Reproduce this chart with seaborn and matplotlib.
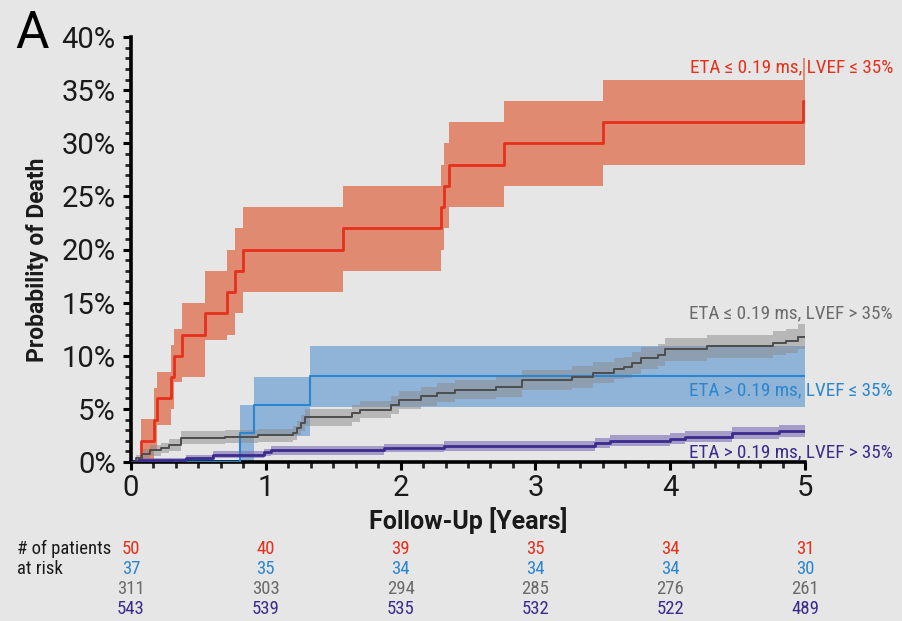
import numpy as np
import pandas as pd
import matplotlib
matplotlib.use("Agg")
import matplotlib.pyplot as plt
import matplotlib.transforms as mtransforms
from matplotlib import font_manager
from matplotlib.ticker import MultipleLocator, FuncFormatter
import seaborn as sns

# ---------------- data ----------------
red_t = [0, 0.074, 0.17, 0.19, 0.30, 0.32, 0.376, 0.55, 0.71, 0.77, 0.83, 1.57, 2.30, 2.32, 2.36, 2.77, 3.50, 4.985, 5.0]
red_v = [0, 2, 4, 6, 8, 10, 12, 14, 16, 18, 20, 22, 24, 26, 28, 30, 32, 34, 34]
red_lo = [0, 0, 1, 3.5, 5, 7.5, 8, 11.5, 12, 14, 16, 18, 20, 22, 24, 26, 28, 28, 28]
red_hi = [0, 4, 7, 8.5, 11, 12.5, 15, 18, 20, 22, 24, 26, 28, 30, 32, 34, 36, 38, 38]

blue_t = [0, 0.81, 0.91, 1.33, 5.0]
blue_v = [0, 2.7, 5.4, 8.1, 8.1]
blue_lo = [0, 0, 2.4, 5.2, 5.2]
blue_hi = [0, 5.4, 8.0, 10.9, 10.9]

gray_t = [0, 0.04, 0.08, 0.14, 0.22, 0.28, 0.37, 0.70, 0.94, 1.20, 1.23, 1.26, 1.29, 1.64, 1.70,
          1.93, 1.99, 2.15, 2.27, 2.40, 2.71, 2.90, 3.27, 3.43, 3.58, 3.66, 3.72, 3.78, 3.91, 3.96,
          4.27, 4.76, 4.86, 4.95, 5.0]
gray_v = [0, 0.4, 0.8, 1.1, 1.3, 1.6, 2.3, 2.4, 2.5, 2.7, 3.2, 3.7, 4.2, 4.6, 4.9,
          5.4, 5.8, 6.2, 6.5, 6.8, 7.1, 7.7, 8.0, 8.4, 8.8, 8.9, 9.3, 9.8, 10.1, 10.6,
          10.9, 11.2, 11.4, 11.8, 11.8]
gray_err = [0, 0.3, 0.45, 0.5, 0.5, 0.55, 0.6, 0.6, 0.6, 0.65, 0.7, 0.75, 0.8, 0.8, 0.8,
            0.85, 0.85, 0.9, 0.9, 0.9, 0.95, 0.95, 1.0, 1.0, 1.0, 1.0, 1.05, 1.05, 1.05, 1.1,
            1.1, 1.1, 1.1, 1.15, 1.15]

purple_t = [0, 0.05, 0.41, 0.61, 0.99, 1.04, 1.88, 2.32, 3.44, 3.55, 4.00, 4.11, 4.46, 4.81, 5.0]
purple_v = [0, 0.2, 0.4, 0.7, 0.9, 1.1, 1.3, 1.5, 1.8, 2.0, 2.2, 2.4, 2.7, 2.9, 2.9]
purple_err = [0, 0.15, 0.25, 0.3, 0.35, 0.4, 0.4, 0.45, 0.45, 0.5, 0.5, 0.5, 0.55, 0.55, 0.55]

group_labels = ["ETA \u2264 0.19 ms, LVEF \u2264 35%",
                "ETA \u2264 0.19 ms, LVEF > 35%",
                "ETA > 0.19 ms, LVEF \u2264 35%",
                "ETA > 0.19 ms, LVEF > 35%"]

risk_times = [0, 1, 2, 3, 4, 5]
risk_red = [50, 40, 39, 35, 34, 31]
risk_blue = [37, 35, 34, 34, 34, 30]
risk_gray = [311, 303, 294, 285, 276, 261]
risk_purple = [543, 539, 535, 532, 522, 489]

y_ticks = [0, 5, 10, 15, 20, 25, 30, 35, 40]
x_ticks = [0, 1, 2, 3, 4, 5]

# ---------------- style ----------------
sns.set_theme(style="white")
names = {f.name for f in font_manager.fontManager.ttflist}
narrow = next((n for n in ["Roboto Condensed", "Liberation Sans Narrow", "Open Sans Condensed",
                           "DejaVu Sans Condensed"] if n in names), None)
COND = ([narrow] if narrow else []) + ["Roboto", "DejaVu Sans"]
REG = ["Roboto", "DejaVu Sans"]
plt.rcParams['font.family'] = REG

BG = "#e6e6e6"
RED, RED_BAND = "#e5311c", "#e08b71"
BLUE, BLUE_BAND = "#2b86cf", "#8fb4d7"
GRAY, GRAY_BAND = "#4d4d4d", "#8a8a8a"
GRAY_TXT = "#6b6b6b"
PURPLE, PURPLE_BAND = "#3a2b8c", "#7a6bb5"

fig = plt.figure(figsize=(9.02, 6.21), dpi=100, facecolor=BG)
ax = fig.add_axes([131/902, 1-462/621, (805-131)/902, (462-37)/621])
ax.set_facecolor(BG)

# bands
ax.fill_between(red_t, red_lo, red_hi, step="post", color=RED_BAND, lw=0, zorder=1)
ax.fill_between(blue_t, blue_lo, blue_hi, step="post", color=BLUE_BAND, lw=0, zorder=2)
g_lo = np.array(gray_v) - np.array(gray_err)
g_hi = np.array(gray_v) + np.array(gray_err)
ax.fill_between(gray_t, np.clip(g_lo, 0, None), g_hi, step="post", color=GRAY_BAND, alpha=0.5, lw=0, zorder=3)
p_lo = np.array(purple_v) - np.array(purple_err)
p_hi = np.array(purple_v) + np.array(purple_err)
ax.fill_between(purple_t, np.clip(p_lo, 0, None), p_hi, step="post", color=PURPLE_BAND, alpha=0.6, lw=0, zorder=3)

# lines
sns.lineplot(x=red_t, y=red_v, drawstyle="steps-post", estimator=None, sort=False,
             color=RED, lw=2.0, ax=ax, zorder=5)
sns.lineplot(x=blue_t, y=blue_v, drawstyle="steps-post", estimator=None, sort=False,
             color=BLUE, lw=1.5, ax=ax, zorder=5)
sns.lineplot(x=gray_t, y=gray_v, drawstyle="steps-post", estimator=None, sort=False,
             color=GRAY, lw=1.4, ax=ax, zorder=5)
sns.lineplot(x=purple_t, y=purple_v, drawstyle="steps-post", estimator=None, sort=False,
             color=PURPLE, lw=2.0, ax=ax, zorder=5)

ax.set_xlim(0, 5)
ax.set_ylim(0, 40)
sns.despine(ax=ax)
for s in ["left", "bottom"]:
    ax.spines[s].set_linewidth(2.6)
    ax.spines[s].set_color("black")
ax.set_yticks(y_ticks)
ax.set_xticks(x_ticks)
ax.yaxis.set_major_formatter(FuncFormatter(lambda v, _: f"{v:.0f}%"))
ax.yaxis.set_minor_locator(MultipleLocator(1))
ax.xaxis.set_minor_locator(MultipleLocator(1/6))
ax.tick_params(which="major", length=6, width=2.2, direction="out", labelsize=21,
               colors="black", pad=3, left=True, bottom=True)
ax.tick_params(axis="y", which="major", pad=5)
ax.tick_params(which="minor", length=4, width=2.0, direction="out", left=True, bottom=True)
for lab in ax.get_xticklabels() + ax.get_yticklabels():
    lab.set_color("#1a1a1a")
    lab.set_family(REG)

ax.set_xlabel("Follow-Up [Years]", fontsize=18, fontweight="bold", color="#1a1a1a", family=REG)
ax.set_ylabel("Probability of Death", fontsize=16.5, fontweight="bold", color="#1a1a1a", family=REG)
ax.xaxis.set_label_coords((468-131)/674, -(507-462)/425)
ax.yaxis.set_label_coords((49-131)/674, (462-260)/425)

fig.text(32/902, 1-34/621, "A", fontsize=37, ha="center", va="center", color="black", family=REG)

# group labels on the right
lab_x = 893/902
fig.text(lab_x, 1-67/621, group_labels[0], color=RED, fontsize=13.8, ha="right", va="center", family=COND)
fig.text(lab_x, 1-313/621, group_labels[1], color=GRAY_TXT, fontsize=13.8, ha="right", va="center", family=COND)
fig.text(lab_x, 1-390/621, group_labels[2], color=BLUE, fontsize=13.8, ha="right", va="center", family=COND)
fig.text(lab_x, 1-452/621, group_labels[3], color=PURPLE, fontsize=13.8, ha="right", va="center", family=COND)

# risk table
trans = mtransforms.blended_transform_factory(ax.transData, fig.transFigure)
rows = [(risk_red, RED), (risk_blue, BLUE), (risk_gray, GRAY_TXT), (risk_purple, PURPLE)]
row_y = [549, 569, 589, 609]
for (vals, col), yy in zip(rows, row_y):
    for t, v in zip(risk_times, vals):
        ax.text(t, 1-yy/621, str(v), transform=trans, ha="center", va="center",
                fontsize=13.5, color=col, clip_on=False, family=COND)
fig.text(17/902, 1-549/621, "# of patients", fontsize=13.5, ha="left", va="center", color="#1a1a1a", family=COND)
fig.text(17/902, 1-569/621, "at risk", fontsize=13.5, ha="left", va="center", color="#1a1a1a", family=COND)

fig.savefig("out.png", dpi=100, facecolor=BG)
